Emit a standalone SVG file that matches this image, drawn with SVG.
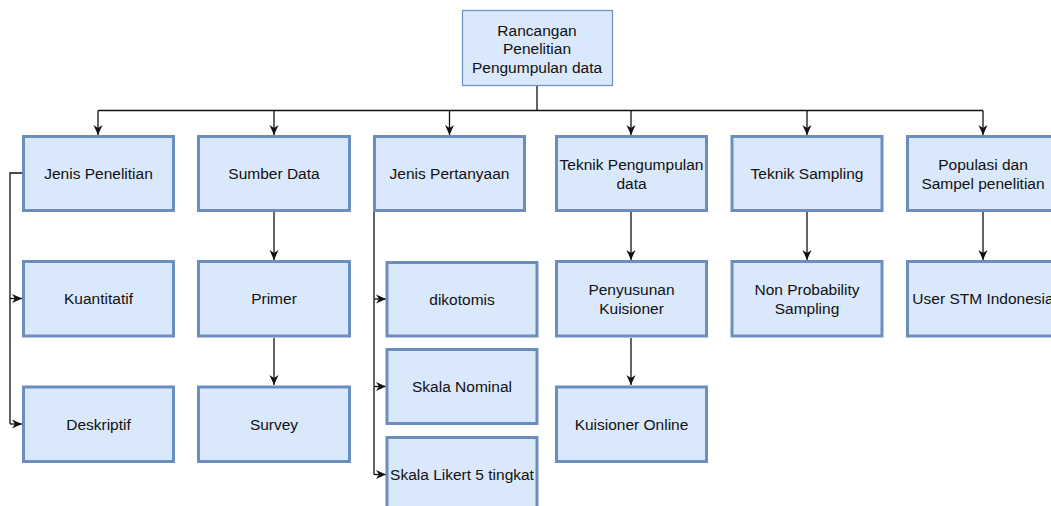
<svg xmlns="http://www.w3.org/2000/svg" width="1051" height="506" viewBox="0 0 1051 506">
<style>
.box{fill:#dae8fc;stroke:#6c8ebf;stroke-width:3}
.top{fill:#dae8fc;stroke:#6c8ebf;stroke-width:1.2}
.t{font-family:"Liberation Sans",Arial,sans-serif;font-size:15.5px;fill:#111;text-anchor:middle}
.c{fill:none;stroke:#111;stroke-width:1.3}
</style>
<defs>
<marker id="a" markerUnits="userSpaceOnUse" markerWidth="10" markerHeight="10" refX="10" refY="5" orient="auto">
<path d="M0,0.5 L10,5 L0,9.5 L3,5 Z" fill="#111"/>
</marker>
</defs>
<rect width="1051" height="506" fill="#fff"/>
<g id="connectors">
<path class="c" d="M537,86 V110.5 M98,110.5 H983"/>
<path class="c" d="M98,110.5 V135" marker-end="url(#a)"/>
<path class="c" d="M274,110.5 V135" marker-end="url(#a)"/>
<path class="c" d="M449.5,110.5 V135" marker-end="url(#a)"/>
<path class="c" d="M631,110.5 V135" marker-end="url(#a)"/>
<path class="c" d="M807,110.5 V135" marker-end="url(#a)"/>
<path class="c" d="M983,110.5 V135" marker-end="url(#a)"/>
<path class="c" d="M22,173 H10 V424"/>
<path class="c" d="M10,298.5 H22" marker-end="url(#a)"/>
<path class="c" d="M10,424 H22" marker-end="url(#a)"/>
<path class="c" d="M374,212 V474.5"/>
<path class="c" d="M374,299 H386" marker-end="url(#a)"/>
<path class="c" d="M374,386.5 H386" marker-end="url(#a)"/>
<path class="c" d="M374,474.5 H386" marker-end="url(#a)"/>
<path class="c" d="M274,212 V260" marker-end="url(#a)"/>
<path class="c" d="M274,338 V385" marker-end="url(#a)"/>
<path class="c" d="M631,212 V260" marker-end="url(#a)"/>
<path class="c" d="M631,338 V385" marker-end="url(#a)"/>
<path class="c" d="M807,212 V260" marker-end="url(#a)"/>
<path class="c" d="M983,212 V260" marker-end="url(#a)"/>
</g>
<g id="root"><rect class="top" x="462.5" y="10.5" width="150" height="75"/>
<text class="t"><tspan x="537" y="35.5">Rancangan</tspan><tspan x="537" y="54">Penelitian</tspan><tspan x="537" y="72.5">Pengumpulan data</tspan></text></g>
<g id="jenis-penelitian"><rect class="box" x="23.5" y="136.5" width="150" height="74"/><text class="t" x="98.5" y="178.5">Jenis Penelitian</text></g>
<g id="kuantitatif"><rect class="box" x="23.5" y="261.5" width="150" height="74.5"/><text class="t" x="98.5" y="304">Kuantitatif</text></g>
<g id="deskriptif"><rect class="box" x="23.5" y="387" width="150" height="74.5"/><text class="t" x="98.5" y="429.5">Deskriptif</text></g>
<g id="sumber-data"><rect class="box" x="198.5" y="136.5" width="151" height="74"/><text class="t" x="274" y="178.5">Sumber Data</text></g>
<g id="primer"><rect class="box" x="198.5" y="261.5" width="151" height="74.5"/><text class="t" x="274" y="304">Primer</text></g>
<g id="survey"><rect class="box" x="198.5" y="387" width="151" height="74.5"/><text class="t" x="274" y="429.5">Survey</text></g>
<g id="jenis-pertanyaan"><rect class="box" x="374.5" y="136.5" width="150" height="74"/><text class="t" x="449.5" y="178.5">Jenis Pertanyaan</text></g>
<g id="dikotomis"><rect class="box" x="387" y="262.5" width="150" height="73.5"/><text class="t" x="462" y="304.5">dikotomis</text></g>
<g id="skala-nominal"><rect class="box" x="387" y="349.5" width="150" height="74"/><text class="t" x="462" y="392">Skala Nominal</text></g>
<g id="skala-likert"><rect class="box" x="387" y="437.5" width="150" height="75"/><text class="t" x="462" y="480">Skala Likert 5 tingkat</text></g>
<g id="teknik-pengumpulan"><rect class="box" x="556.5" y="136.5" width="150" height="74"/><text class="t"><tspan x="631.5" y="170">Teknik Pengumpulan</tspan><tspan x="631.5" y="188.5">data</tspan></text></g>
<g id="penyusunan"><rect class="box" x="556.5" y="261.5" width="150" height="74.5"/><text class="t"><tspan x="631.5" y="295">Penyusunan</tspan><tspan x="631.5" y="313.5">Kuisioner</tspan></text></g>
<g id="kuisioner-online"><rect class="box" x="556.5" y="387" width="150" height="74.5"/><text class="t" x="631.5" y="429.5">Kuisioner Online</text></g>
<g id="teknik-sampling"><rect class="box" x="732" y="136.5" width="150" height="74"/><text class="t" x="807" y="178.5">Teknik Sampling</text></g>
<g id="non-probability"><rect class="box" x="732" y="261.5" width="150" height="74.5"/><text class="t"><tspan x="807" y="295">Non Probability</tspan><tspan x="807" y="313.5">Sampling</tspan></text></g>
<g id="populasi"><rect class="box" x="907.5" y="136.5" width="150" height="74"/><text class="t"><tspan x="983" y="170">Populasi dan</tspan><tspan x="983" y="188.5">Sampel penelitian</tspan></text></g>
<g id="user-stm"><rect class="box" x="907.5" y="261.5" width="150" height="74.5"/><text class="t" x="983" y="304">User STM Indonesia</text></g>
</svg>
